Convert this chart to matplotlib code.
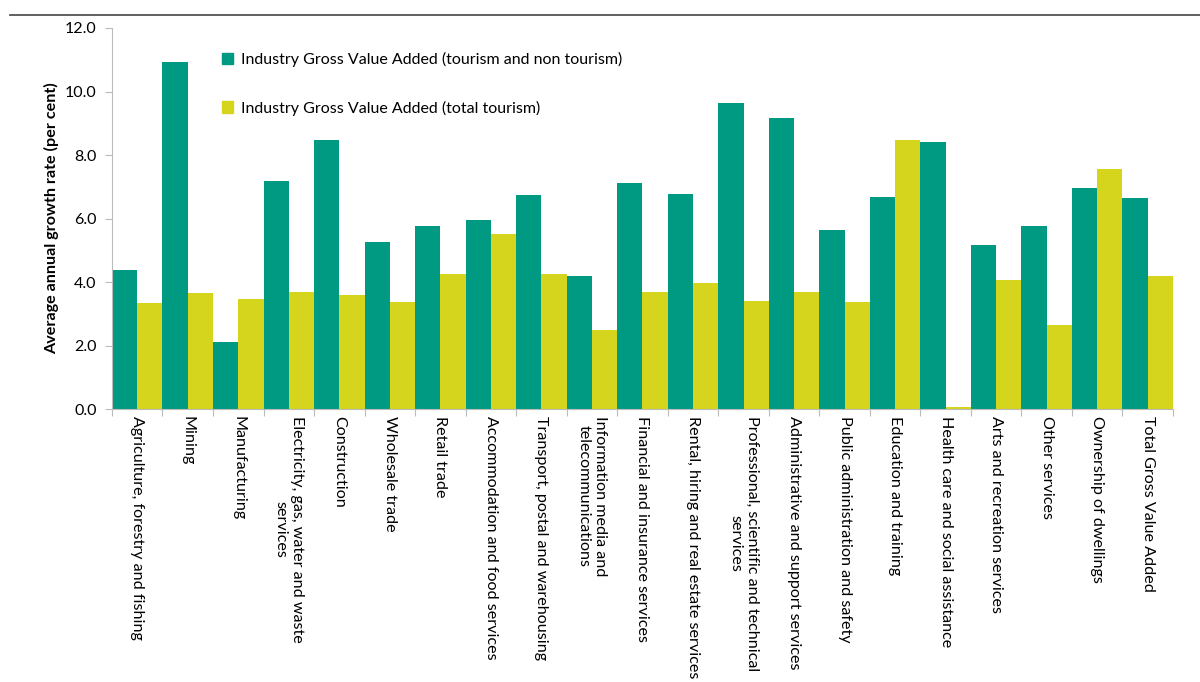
import numpy as np
import matplotlib.pyplot as plt
from matplotlib.patches import Patch

plt.rcParams['font.family'] = ['Lato', 'DejaVu Sans']

industries = [
    'Agriculture, forestry and fishing',
    'Mining',
    'Manufacturing',
    'Electricity, gas, water and waste\nservices',
    'Construction',
    'Wholesale trade',
    'Retail trade',
    'Accommodation and food services',
    'Transport, postal and warehousing',
    'Information media and\ntelecommunications',
    'Financial and insurance services',
    'Rental, hiring and real estate services',
    'Professional, scientific and technical\nservices',
    'Administrative and support services',
    'Public administration and safety',
    'Education and training',
    'Health care and social assistance',
    'Arts and recreation services',
    'Other services',
    'Ownership of dwellings',
    'Total Gross Value Added',
]

gva_all = [4.39, 10.93, 2.13, 7.19, 8.46, 5.27, 5.78, 5.94, 6.75, 4.18, 7.12,
           6.77, 9.65, 9.18, 5.64, 6.69, 8.42, 5.18, 5.78, 6.96, 6.65]
gva_tourism = [3.34, 3.66, 3.46, 3.69, 3.61, 3.39, 4.27, 5.51, 4.25, 2.50, 3.70,
               3.97, 3.41, 3.69, 3.38, 8.46, 0.06, 4.07, 2.66, 7.56, 4.19]

teal = '#009A82'
lime = '#D5D51E'

fig = plt.figure(figsize=(12, 6.82), dpi=100)
ax = fig.add_axes([0.0933, 0.40, 0.8842, 0.559])

x = np.arange(len(industries))
w = 0.5
ax.bar(x - w / 2, gva_all, width=w, color=teal, linewidth=0)
ax.bar(x + w / 2, gva_tourism, width=w, color=lime, linewidth=0)

ax.set_xlim(-0.5, len(industries) - 0.5)
ax.set_ylim(0, 12)
ax.set_yticks(np.arange(0, 12.1, 2))
ax.set_yticklabels(['%.1f' % v for v in np.arange(0, 12.1, 2)], fontsize=11.5)

# category boundaries carry the ticks, labels sit in the middle
ax.set_xticks(np.arange(-0.5, len(industries), 1))
ax.set_xticklabels([])
ax.set_xticks(x, minor=True)
ax.set_xticklabels(industries, minor=True, rotation=270, fontsize=11.6,
                   ha='center', va='top', multialignment='center')
ax.tick_params(axis='x', which='minor', length=0, pad=5)
ax.tick_params(axis='x', which='major', length=5, color='#BBBBBB')
ax.tick_params(axis='y', length=5, color='#BBBBBB', pad=6)

for side in ['top', 'right']:
    ax.spines[side].set_visible(False)
for side in ['left', 'bottom']:
    ax.spines[side].set_color('#BBBBBB')

ax.set_ylabel('Average annual growth rate (per cent)', fontsize=11.6,
              fontweight='bold', labelpad=4)

handles = [Patch(color=teal), Patch(color=lime)]
ax.legend(handles,
          ['Industry Gross Value Added (tourism and non tourism)',
           'Industry Gross Value Added (total tourism)'],
          loc='upper left', bbox_to_anchor=(0.09, 0.975), frameon=False,
          fontsize=11.5, handlelength=0.7, handleheight=0.7, handletextpad=0.5,
          labelspacing=2.1)

# rule across the top of the figure
fig.add_artist(plt.Line2D([0.008, 1.0], [0.978, 0.978], color='#444444', lw=1.2))

fig.savefig('out.png', dpi=100)
